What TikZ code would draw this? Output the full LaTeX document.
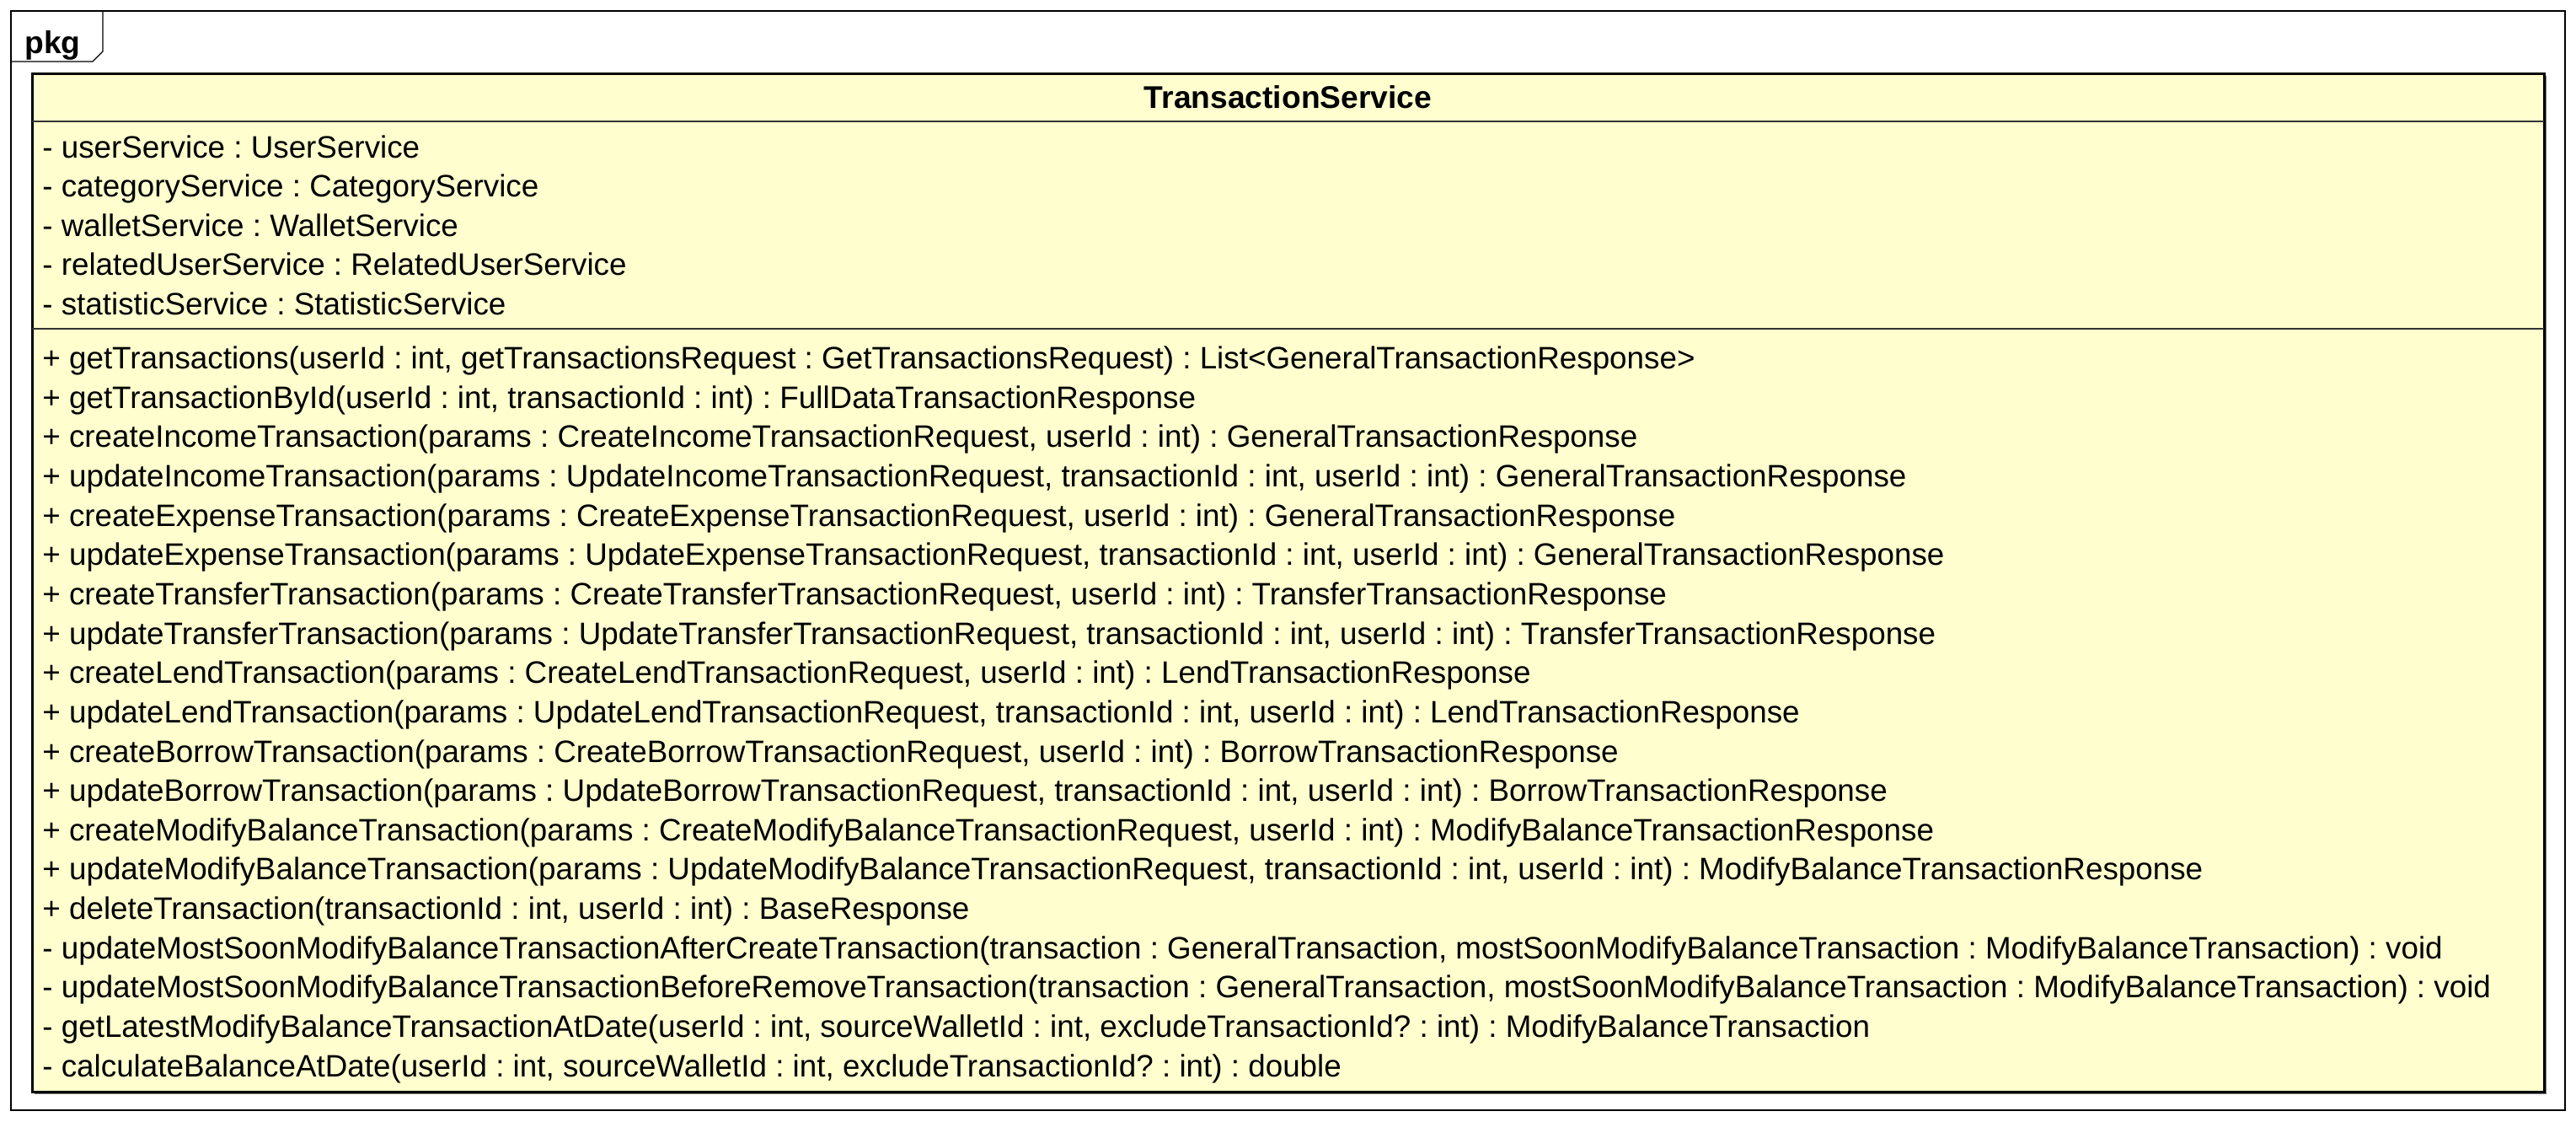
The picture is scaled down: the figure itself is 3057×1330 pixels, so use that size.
\documentclass[tikz,border=0pt]{standalone}
\usepackage{fontspec}
\setmainfont{Liberation Sans}
\usetikzlibrary{positioning}
\definecolor{classfill}{HTML}{FEFECE}
\frenchspacing

\begin{document}
\begin{tikzpicture}[x=0.5pt, y=-0.5pt,
    % Styles
    frame/.style={draw=black, line width=0.6pt},
    classbox/.style={draw=black, fill=classfill, line width=1.5pt},
    shadowbox/.style={fill=black!55},
    divider/.style={draw=black!80, line width=0.7pt},
    title/.style={font=\fontsize{18.6}{22}\selectfont\bfseries, inner sep=0pt},
    member/.style={font=\fontsize{18.4}{22}\selectfont, inner sep=0pt, anchor=base west},
]
\useasboundingbox (0,0) rectangle (3057,1330);

% Package frame
\draw[frame] (13,13) rectangle (3044,1317);
\draw[frame] (13,73) -- (110,73) -- (122,61) -- (122,13);
\node[title, anchor=base west] (pkg) at (29,63) {pkg};

% Class box
\fill[shadowbox] (41,90) rectangle (3022,1298);
\draw[classbox] (38,87) rectangle (3019,1295);
\draw[divider] (38,144) -- (3019,144);
\draw[divider] (38,390) -- (3019,390);
\node[title] (class-name) at (1528.5,115.5) {TransactionService};

% Attributes
\node[member] (attr-user) at (50,187) {- userService : UserService};
\node[member] (attr-category) at (50,233.6) {- categoryService : CategoryService};
\node[member] (attr-wallet) at (50,280.2) {- walletService : WalletService};
\node[member] (attr-related) at (50,326.9) {- relatedUserService : RelatedUserService};
\node[member] (attr-statistic) at (50,373.5) {- statisticService : StatisticService};

% Public methods
\node[member] (op-get) at (50,437.5) {+ getTransactions(userId : int, getTransactionsRequest : GetTransactionsRequest) : List<GeneralTransactionResponse>};
\node[member] (op-get-id) at (50,484.15) {+ getTransactionById(userId : int, transactionId : int) : FullDataTransactionResponse};
\node[member] (op-create-income) at (50,530.8) {+ createIncomeTransaction(params : CreateIncomeTransactionRequest, userId : int) : GeneralTransactionResponse};
\node[member] (op-update-income) at (50,577.45) {+ updateIncomeTransaction(params : UpdateIncomeTransactionRequest, transactionId : int, userId : int) : GeneralTransactionResponse};
\node[member] (op-create-expense) at (50,624.1) {+ createExpenseTransaction(params : CreateExpenseTransactionRequest, userId : int) : GeneralTransactionResponse};
\node[member] (op-update-expense) at (50,670.75) {+ updateExpenseTransaction(params : UpdateExpenseTransactionRequest, transactionId : int, userId : int) : GeneralTransactionResponse};
\node[member] (op-create-transfer) at (50,717.4) {+ createTransferTransaction(params : CreateTransferTransactionRequest, userId : int) : TransferTransactionResponse};
\node[member] (op-update-transfer) at (50,764.05) {+ updateTransferTransaction(params : UpdateTransferTransactionRequest, transactionId : int, userId : int) : TransferTransactionResponse};
\node[member] (op-create-lend) at (50,810.7) {+ createLendTransaction(params : CreateLendTransactionRequest, userId : int) : LendTransactionResponse};
\node[member] (op-update-lend) at (50,857.35) {+ updateLendTransaction(params : UpdateLendTransactionRequest, transactionId : int, userId : int) : LendTransactionResponse};
\node[member] (op-create-borrow) at (50,904) {+ createBorrowTransaction(params : CreateBorrowTransactionRequest, userId : int) : BorrowTransactionResponse};
\node[member] (op-update-borrow) at (50,950.65) {+ updateBorrowTransaction(params : UpdateBorrowTransactionRequest, transactionId : int, userId : int) : BorrowTransactionResponse};
\node[member] (op-create-modify) at (50,997.3) {+ createModifyBalanceTransaction(params : CreateModifyBalanceTransactionRequest, userId : int) : ModifyBalanceTransactionResponse};
\node[member] (op-update-modify) at (50,1043.95) {+ updateModifyBalanceTransaction(params : UpdateModifyBalanceTransactionRequest, transactionId : int, userId : int) : ModifyBalanceTransactionResponse};
\node[member] (op-delete) at (50,1090.6) {+ deleteTransaction(transactionId : int, userId : int) : BaseResponse};

% Private methods
\node[member] (op-after-create) at (50,1137.25) {- updateMostSoonModifyBalanceTransactionAfterCreateTransaction(transaction : GeneralTransaction, mostSoonModifyBalanceTransaction : ModifyBalanceTransaction) : void};
\node[member] (op-before-remove) at (50,1183.9) {- updateMostSoonModifyBalanceTransactionBeforeRemoveTransaction(transaction : GeneralTransaction, mostSoonModifyBalanceTransaction : ModifyBalanceTransaction) : void};
\node[member] (op-latest) at (50,1230.55) {- getLatestModifyBalanceTransactionAtDate(userId : int, sourceWalletId : int, excludeTransactionId? : int) : ModifyBalanceTransaction};
\node[member] (op-balance) at (50,1277.2) {- calculateBalanceAtDate(userId : int, sourceWalletId : int, excludeTransactionId? : int) : double};

\end{tikzpicture}
\end{document}
